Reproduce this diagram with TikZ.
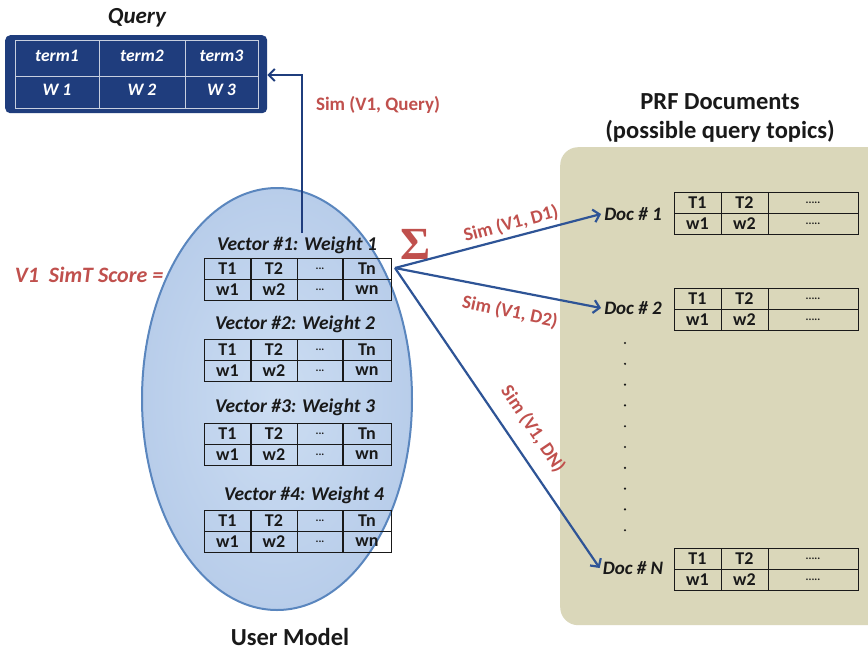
\documentclass[tikz,border=0pt]{standalone}
\usepackage{fontspec}
\setmainfont{Carlito}
\newfontfamily\sigmafont{Liberation Serif}
\usetikzlibrary{arrows.meta,shapes.geometric}

\definecolor{navy}{RGB}{31,61,125}
\definecolor{simred}{RGB}{192,80,77}
\definecolor{arrowblue}{RGB}{46,84,150}
\definecolor{umfillin}{RGB}{204,221,242}
\definecolor{umfillout}{RGB}{184,205,234}
\definecolor{umedge}{RGB}{90,134,190}
\definecolor{prffill}{RGB}{218,215,186}
\definecolor{ink}{RGB}{25,25,25}

\tikzset{
  cell/.style={font=\bfseries\fontsize{18}{20}\selectfont, text=ink, inner sep=0pt},
  qcell/.style={font=\bfseries\itshape\fontsize{17.5}{20}\selectfont, text=white, inner sep=0pt},
  dotcell/.style={font=\bfseries\fontsize{11}{12}\selectfont, text=ink, inner sep=0pt},
  veclabel/.style={font=\bfseries\itshape\fontsize{19.5}{22}\selectfont, text=ink, inner sep=1pt},
  doclabel/.style={font=\bfseries\itshape\fontsize{19}{22}\selectfont, text=ink, inner sep=3pt},
  simlabel/.style={font=\bfseries\fontsize{19}{22}\selectfont, text=simred, inner sep=0pt},
  title/.style={font=\bfseries\fontsize{24.5}{29}\selectfont, text=ink, align=center},
  tblbox/.style={draw=ink, line width=0.8pt, minimum height=42pt, inner sep=0pt},
  grid/.style={draw=ink, line width=0.8pt},
  simarrow/.style={draw=arrowblue, line width=2.2pt, -{Straight Barb[length=6pt,width=13pt]}},
}

% a 2 x 4 term/weight table of a user-model vector
\newcommand{\vectbl}[2]{%
  \node[tblbox, minimum width=187pt, anchor=north west] (#1) at (204,#2) {};
  \draw[grid] (#1.west) -- (#1.east);
  \draw[grid, line width=1.5pt] (251,#2) -- ++(0,42) (343,#2) -- ++(0,42);
  \draw[grid] (297,#2) -- ++(0,42);
  \node[cell] (#1-t1) at (227.5,#2+11) {T1};
  \node[cell] (#1-t2) at (274,#2+11) {T2};
  \node[dotcell] (#1-t3) at (320,#2+11) {...};
  \node[cell] (#1-t4) at (367,#2+11) {Tn};
  \node[cell] (#1-w1) at (227.5,#2+32) {w1};
  \node[cell] (#1-w2) at (274,#2+32) {w2};
  \node[dotcell] (#1-w3) at (320,#2+32) {...};
  \node[cell] (#1-w4) at (367,#2+32) {wn};
}

% a 2 x 3 term/weight table of a feedback document
\newcommand{\doctbl}[2]{%
  \node[tblbox, minimum width=184pt, anchor=north west] (#1) at (674,#2) {};
  \draw[grid] (#1.west) -- (#1.east);
  \draw[grid] (721,#2) -- ++(0,42) (768,#2) -- ++(0,42);
  \node[cell] (#1-t1) at (697.5,#2+11) {T1};
  \node[cell] (#1-t2) at (744.5,#2+11) {T2};
  \node[dotcell] (#1-t3) at (813,#2+11) {.....};
  \node[cell] (#1-w1) at (697.5,#2+32) {w1};
  \node[cell] (#1-w2) at (744.5,#2+32) {w2};
  \node[dotcell] (#1-w3) at (813,#2+32) {.....};
}

\begin{document}
\begin{tikzpicture}[x=1pt,y=-1pt]
\useasboundingbox (0,0) rectangle (868,651);
\fill[white] (0,0) rectangle (868,651);

% PRF documents panel
\node[rectangle, rounded corners=18pt, fill=prffill, minimum width=340pt,
      minimum height=478pt, anchor=north west, inner sep=0pt] (prf) at (560,147) {};
\node[title] (prftitle) at (720,118) {PRF Documents\\(possible query topics)};

% user model ellipse
\node[ellipse, minimum width=270pt, minimum height=422pt, inner sep=0pt,
      inner color=umfillin, outer color=umfillout, draw=umedge, line width=2pt] (um) at (277,399) {};
\node[title] (umtitle) at (290,637) {User Model};

% query
\node[font=\bfseries\itshape\fontsize{23}{27}\selectfont, text=ink] (qtitle) at (137,18) {Query};
\node[rectangle, rounded corners=5pt, fill=navy, minimum width=262pt, minimum height=78pt,
      anchor=north west, inner sep=0pt] (query) at (5,35) {};
\draw[white!75!navy, line width=0.8pt] (15,40) rectangle (258,108)
  (15,76) -- (258,76) (99,40) -- (99,108) (185,40) -- (185,108);
\node[qcell] (q1) at (57,56) {term1};
\node[qcell] (q2) at (142,56) {term2};
\node[qcell] (q3) at (221.5,56) {term3};
\node[qcell] (qw1) at (57,90) {W 1};
\node[qcell] (qw2) at (142,90) {W 2};
\node[qcell] (qw3) at (221.5,90) {W 3};

% vectors of the user model
\node[veclabel] (vl1) at (297,245) {Vector \#1: Weight 1};
\vectbl{v1}{258}
\node[veclabel] (vl2) at (295,324) {Vector \#2: Weight 2};
\vectbl{v2}{339}
\node[veclabel] (vl3) at (295,407) {Vector \#3: Weight 3};
\vectbl{v3}{423}
\node[veclabel] (vl4) at (304,495) {Vector \#4: Weight 4};
\vectbl{v4}{510}

\node[font=\bfseries\itshape\fontsize{22}{26}\selectfont, text=simred] (score) at (89,275) {V1\ \ SimT Score =};
\node[font=\sigmafont\bfseries\fontsize{46}{50}\selectfont, text=simred, inner sep=0pt] (sigma) at (416,244) {Σ};

% feedback documents
\node[doclabel] (d1) at (633,214) {Doc \# 1};
\doctbl{t1}{192}
\node[doclabel] (d2) at (633,308) {Doc \# 2};
\doctbl{t2}{288}
\node[doclabel] (dn) at (633,568) {Doc \# N};
\doctbl{tn}{548}
\foreach \i in {0,...,9} \fill[ink] (625,343+20.8*\i) circle (1.2pt);

% similarity connectors
\coordinate (src) at (395,268);
\coordinate (qsrc) at (302,233);
\draw[navy, line width=2pt, -{Straight Barb[length=6pt,width=12pt]}]
  (qsrc) |- (query.east |- 0,75);
\node[simlabel] (lq) at (378,105) {Sim (V1, Query)};

\draw[simarrow] (src) -- (d1.west);
\draw[simarrow] (src) -- (d2.west);
\draw[simarrow] (src) -- (dn.west);
\node[simlabel, rotate=15] (l1) at (511,224) {Sim (V1, D1)};
\node[simlabel, rotate=-12] (l2) at (510,312) {Sim (V1, D2)};
\node[simlabel, rotate=-56] (l3) at (533,429) {Sim (V1, DN)};
\end{tikzpicture}
\end{document}
